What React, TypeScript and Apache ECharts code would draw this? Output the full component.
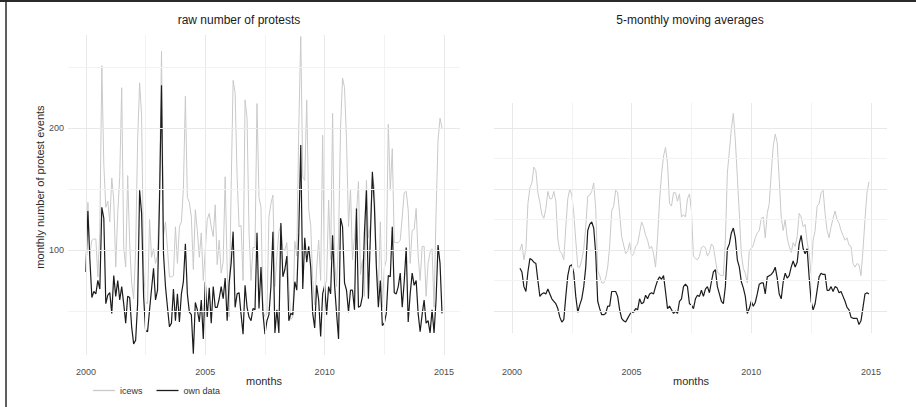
import React, { useEffect, useRef } from "react";
import * as echarts from "echarts";

// ---------- data ----------
const startYear = 2000; // first month = January 2000
// raw monthly counts, Jan 2000 .. Dec 2014
const icews = [
  84, 139, 97, 108, 109, 109, 78, 115, 251, 170,
  135, 140, 123, 159, 141, 86, 130, 160, 233, 102,
  86, 161, 105, 73, 60, 100, 190, 237, 210, 84,
  57, 56, 125, 94, 101, 89, 95, 150, 263, 112,
  123, 101, 78, 78, 79, 119, 89, 119, 123, 150,
  226, 143, 139, 127, 84, 133, 116, 94, 114, 75,
  100, 125, 130, 119, 111, 137, 88, 108, 81, 90,
  160, 85, 45, 150, 239, 229, 160, 119, 120, 75,
  223, 208, 114, 75, 102, 102, 220, 143, 135, 50,
  45, 48, 127, 138, 145, 70, 95, 115, 120, 100,
  100, 106, 70, 43, 45, 107, 95, 200, 275, 160,
  157, 223, 133, 120, 75, 55, 85, 108, 75, 194,
  70, 75, 141, 92, 212, 90, 70, 110, 200, 241,
  233, 190, 119, 150, 92, 110, 130, 156, 80, 92,
  62, 157, 110, 120, 160, 152, 89, 65, 123, 53,
  85, 92, 203, 149, 183, 106, 106, 106, 108, 127,
  147, 148, 133, 89, 116, 117, 134, 95, 75, 103,
  103, 62, 89, 98, 101, 53, 130, 190, 208, 200,
];
const ownData = [
  82, 132, 92, 61, 66, 64, 75, 68, 135, 126,
  56, 63, 65, 48, 79, 62, 75, 59, 70, 56,
  40, 62, 61, 37, 23, 26, 56, 149, 130, 62,
  34, 33, 51, 68, 85, 59, 67, 140, 235, 97,
  70, 53, 37, 40, 68, 42, 64, 41, 64, 74,
  105, 64, 49, 47, 15, 57, 51, 41, 59, 27,
  74, 45, 69, 40, 70, 53, 53, 60, 70, 60,
  77, 42, 73, 89, 115, 53, 64, 65, 47, 31,
  71, 53, 45, 42, 52, 51, 114, 52, 86, 48,
  31, 42, 47, 70, 115, 32, 51, 32, 122, 78,
  84, 95, 42, 48, 47, 74, 67, 114, 186, 68,
  110, 90, 103, 86, 48, 36, 71, 59, 29, 64,
  71, 47, 70, 64, 112, 71, 48, 27, 126, 119,
  73, 67, 49, 67, 67, 51, 134, 53, 54, 62,
  114, 149, 60, 112, 164, 136, 86, 53, 75, 38,
  40, 48, 79, 78, 119, 65, 64, 70, 81, 53,
  74, 102, 41, 64, 81, 71, 75, 48, 33, 47,
  59, 40, 42, 32, 51, 32, 59, 104, 89, 48,
];
// 5-monthly moving averages, May 2000 .. Dec 2014
const maFirstMonth = 4;
const icewsMA = [
  100, 105, 92, 101, 138, 151, 155, 168, 165, 147,
  139, 129, 126, 134, 148, 142, 142, 148, 140, 109,
  99, 97, 92, 119, 142, 150, 145, 130, 108, 86,
  86, 92, 101, 119, 144, 145, 148, 155, 134, 83,
  79, 73, 73, 77, 86, 103, 132, 136, 149, 147,
  130, 111, 104, 97, 99, 106, 95, 97, 103, 105,
  114, 123, 119, 112, 108, 101, 103, 97, 86, 110,
  140, 162, 177, 184, 171, 138, 136, 147, 147, 140,
  146, 127, 129, 127, 142, 146, 132, 95, 93, 92,
  95, 102, 103, 102, 95, 98, 105, 103, 92, 82,
  80, 79, 79, 108, 163, 181, 199, 212, 190, 160,
  130, 97, 85, 81, 73, 100, 101, 104, 110, 114,
  116, 126, 127, 110, 130, 138, 163, 185, 195, 188,
  158, 127, 116, 125, 110, 103, 98, 106, 103, 111,
  130, 127, 119, 121, 107, 97, 81, 108, 116, 136,
  138, 147, 149, 130, 116, 110, 119, 126, 132, 125,
  122, 116, 112, 108, 110, 104, 103, 89, 86, 89,
  88, 79, 100, 125, 147, 156,
];
const ownMA = [
  85, 82, 70, 66, 82, 93, 92, 90, 89, 75,
  62, 64, 65, 64, 68, 64, 60, 58, 56, 52,
  45, 41, 43, 62, 79, 87, 88, 81, 62, 49,
  55, 60, 70, 86, 116, 121, 123, 118, 97, 58,
  52, 47, 47, 48, 54, 54, 66, 66, 66, 62,
  51, 44, 42, 41, 44, 47, 49, 49, 52, 51,
  60, 56, 57, 63, 60, 64, 65, 64, 70, 75,
  78, 76, 79, 66, 52, 54, 51, 48, 50, 48,
  58, 60, 70, 72, 70, 56, 55, 52, 60, 63,
  62, 67, 62, 68, 70, 65, 74, 82, 84, 70,
  64, 58, 56, 70, 101, 105, 114, 118, 110, 92,
  86, 74, 69, 62, 48, 52, 58, 54, 57, 64,
  72, 73, 73, 64, 78, 79, 80, 82, 86, 77,
  64, 60, 74, 81, 77, 79, 86, 91, 86, 90,
  105, 112, 101, 97, 101, 78, 58, 51, 56, 67,
  78, 81, 80, 80, 67, 67, 70, 66, 70, 69,
  65, 66, 62, 58, 53, 51, 45, 44, 44, 44,
  39, 42, 53, 64, 65, 64,
];
const seriesNames = ["icews", "own data"];
const xTicks = [2000, 2005, 2010, 2015];
const xMinorGrid = [2002.5, 2007.5, 2012.5];
const leftYTicks = [100, 200];
const leftYMinorGrid = [50, 150, 250];
const rightYMajorGrid = [50, 100, 150, 200];
const rightYMinorGrid = [75, 125, 175];

// ---------- styling ----------
const FONT = '"Liberation Sans", Arial, Helvetica, sans-serif';
const GREY = "#c9c9c9";
const BLACK = "#1c1c1c";
const MAJOR = { color: "#e8e8e8", width: 1, type: "solid" as const };
const MINOR = { color: "#f2f2f2", width: 1, type: "solid" as const };

const toPoints = (vals: number[], offset: number) =>
  vals.map((v, i) => [startYear + (i + offset) / 12, v]);

function gridLines(idx: number, yMajor: number[], yMinor: number[]) {
  const data: any[] = [];
  xTicks.forEach((v) => data.push({ xAxis: v, lineStyle: MAJOR }));
  xMinorGrid.forEach((v) => data.push({ xAxis: v, lineStyle: MINOR }));
  yMajor.forEach((v) => data.push({ yAxis: v, lineStyle: MAJOR }));
  yMinor.forEach((v) => data.push({ yAxis: v, lineStyle: MINOR }));
  return {
    type: "line",
    name: "grid" + idx,
    xAxisIndex: idx,
    yAxisIndex: idx,
    data: [],
    z: 0,
    silent: true,
    markLine: {
      silent: true,
      symbol: ["none", "none"],
      label: { show: false },
      emphasis: { disabled: true },
      data,
    },
  };
}

function lineSeries(name: string, idx: number, pts: number[][], color: string, width: number, z: number) {
  return {
    type: "line",
    name,
    xAxisIndex: idx,
    yAxisIndex: idx,
    data: pts,
    showSymbol: false,
    symbol: "none",
    z,
    lineStyle: { color, width },
    itemStyle: { color },
    emphasis: { disabled: true },
  };
}

const xAxisBase = (idx: number, labelMargin: number) => ({
  gridIndex: idx,
  type: "value",
  min: 1999.25,
  max: 2015.67,
  axisLine: { show: false },
  axisTick: { show: false },
  splitLine: { show: false },
  axisLabel: {
    customValues: xTicks,
    formatter: (v: number) => String(Math.round(v)),
    color: "#4d4d4d",
    fontSize: 9,
    fontFamily: FONT,
    margin: labelMargin,
  },
});

const textEl = (text: string, x: number, y: number, size: number, fill: string, rotation = 0) => ({
  type: "text",
  x,
  y,
  rotation,
  style: {
    text,
    fill,
    font: `${size}px ${FONT}`,
    textAlign: "center",
    textVerticalAlign: "middle",
  },
});

export default function App() {
  const ref = useRef<HTMLDivElement>(null);
  useEffect(() => {
    if (!ref.current) return;
    const chart = echarts.init(ref.current, undefined, { renderer: "svg" });
    const option: any = {
      animation: false,
      backgroundColor: "#ffffff",
      grid: [
        { left: 68, top: 35, width: 392, height: 320 },
        { left: 494, top: 103, width: 393, height: 230 },
      ],
      xAxis: [xAxisBase(0, 12), xAxisBase(1, 34)],
      yAxis: [
        {
          gridIndex: 0,
          type: "value",
          min: 13.9,
          max: 276.2,
          axisLine: { show: false },
          axisTick: { show: false },
          splitLine: { show: false },
          axisLabel: {
            customValues: leftYTicks,
            color: "#4d4d4d",
            fontSize: 9,
            fontFamily: FONT,
            margin: 4,
          },
        },
        {
          gridIndex: 1,
          type: "value",
          min: 32,
          max: 220.5,
          axisLine: { show: false },
          axisTick: { show: false },
          splitLine: { show: false },
          axisLabel: { show: false },
        },
      ],
      legend: {
        data: seriesNames,
        left: 88,
        top: 381,
        icon: "rect",
        itemWidth: 22,
        itemHeight: 1.3,
        itemGap: 14,
        selectedMode: false,
        textStyle: { color: "#333333", fontSize: 9, fontFamily: FONT },
      },
      series: [
        gridLines(0, leftYTicks, leftYMinorGrid),
        gridLines(1, rightYMajorGrid, rightYMinorGrid),
        lineSeries(seriesNames[0], 0, toPoints(icews, 0), GREY, 1, 2),
        lineSeries(seriesNames[1], 0, toPoints(ownData, 0), BLACK, 1.2, 3),
        lineSeries(seriesNames[0], 1, toPoints(icewsMA, maFirstMonth), GREY, 1, 2),
        lineSeries(seriesNames[1], 1, toPoints(ownMA, maFirstMonth), BLACK, 1.2, 3),
      ],
      graphic: [
        textEl("raw number of protests", 239, 20, 12, "#1a1a1a"),
        textEl("5-monthly moving averages", 690, 20, 12, "#1a1a1a"),
        textEl("monthly number of protest events", 40, 187, 11, "#2b2b2b", Math.PI / 2),
        textEl("months", 264, 381, 11, "#2b2b2b"),
        textEl("months", 691, 381, 11, "#2b2b2b"),
        {
          type: "line",
          shape: { x1: 0, y1: 1, x2: 916, y2: 1 },
          style: { stroke: "#2a2a2a", lineWidth: 2 },
        },
        {
          type: "line",
          shape: { x1: 6, y1: 0, x2: 6, y2: 407 },
          style: { stroke: "#2a2a2a", lineWidth: 1.5 },
        },
      ],
    };
    chart.setOption(option);
    return () => chart.dispose();
  }, []);
  return (
    <div
      ref={ref}
      style={{ position: "fixed", left: 0, top: 0, width: 916, height: 407, background: "#fff" }}
    />
  );
}
